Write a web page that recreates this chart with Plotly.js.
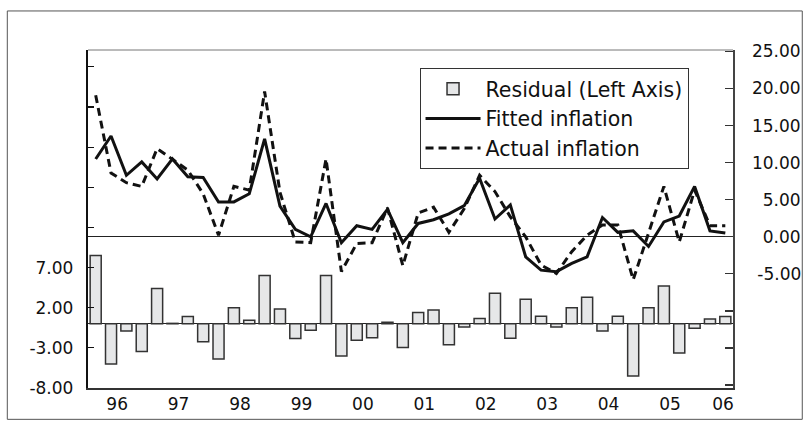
<!DOCTYPE html>
<html>
<head>
<meta charset="utf-8">
<script src="https://cdn.plot.ly/plotly-3.0.1.min.js"></script>
<style>html,body{margin:0;padding:0;background:#fff;}#chart{width:809px;height:426px;}</style>
</head>
<body>
<div id="chart"></div>
<script>
// Quarterly data, 1996Q1 .. 2006Q2
var quarters = ["96Q1","96Q2","96Q3","96Q4","97Q1","97Q2","97Q3","97Q4","98Q1","98Q2","98Q3","98Q4",
  "99Q1","99Q2","99Q3","99Q4","00Q1","00Q2","00Q3","00Q4","01Q1","01Q2","01Q3","01Q4",
  "02Q1","02Q2","02Q3","02Q4","03Q1","03Q2","03Q3","03Q4","04Q1","04Q2","04Q3","04Q4",
  "05Q1","05Q2","05Q3","05Q4","06Q1","06Q2"];
var residual = [8.5,-5.0,-0.9,-3.45,4.4,0.05,0.9,-2.25,-4.4,2.0,0.45,6.0,
  1.85,-1.85,-0.8,6.0,-4.0,-2.05,-1.75,0.2,-2.95,1.4,1.7,-2.6,
  -0.4,0.65,3.8,-1.8,3.05,0.95,-0.4,2.0,3.3,-0.9,0.95,-6.5,
  2.0,4.7,-3.65,-0.55,0.6,0.9];
var fitted = [10.5,13.6,8.3,10.1,7.8,10.5,8.1,8.0,4.7,4.7,5.8,13.2,
  4.15,1.0,0.0,4.5,-0.8,1.5,1.0,3.7,-0.8,1.8,2.3,3.1,
  4.2,7.9,2.4,4.3,-2.7,-4.5,-4.7,-3.6,-2.7,2.6,0.6,0.8,
  -1.3,2.0,2.8,6.8,0.8,0.5];
var actual = [19.1,8.6,7.3,6.8,11.9,10.5,9.0,5.8,0.2,6.8,6.3,19.6,
  6.0,-0.7,-0.8,10.5,-4.7,-0.9,-0.8,3.9,-3.9,3.2,4.0,0.6,
  3.8,8.3,6.1,2.7,0.0,-3.8,-4.95,-2.0,0.2,1.6,1.6,-5.8,
  0.6,6.8,-0.7,6.3,1.5,1.5];
var yearLabels = ["96","97","98","99","00","01","02","03","04","05","06"];
var leftTickVals = [-8,-3,2,7,12,17,22,27,32];
var leftTickText = ["-8.00","-3.00","2.00","7.00","","","","",""];
var rightTickVals = [-20,-15,-10,-5,0,5,10,15,20,25];
var rightTickText = ["","","","\u2008-5.00","\u20070.00","\u20075.00","10.00","15.00","20.00","25.00"];

var xIdx = quarters.map(function(q,i){return i;});
var n = quarters.length;
var yearCenters = yearLabels.map(function(y,k){
  var start = 4*k, end = Math.min(4*k+4, n);
  return (start + end - 1)/2 + (end - start < 4 ? 0.35 : -0.1);
});
var yearBounds = [];
for (var k = 4; k < n; k += 4) yearBounds.push(k - 0.5);

var FONT = "DejaVu Sans, Arial, sans-serif";

var traces = [
  {type:"bar", x:xIdx, y:residual, name:"Residual (Left Axis)", yaxis:"y", xaxis:"x",
   width:0.72, marker:{color:"#e6e7e8", line:{color:"#333333", width:1.5}}},
  {type:"scatter", mode:"lines", x:xIdx, y:fitted, name:"Fitted inflation", yaxis:"y2", xaxis:"x",
   line:{color:"#111111", width:3}},
  {type:"scatter", mode:"lines", x:xIdx, y:actual, name:"Actual inflation", yaxis:"y2", xaxis:"x",
   line:{color:"#111111", width:3, dash:"8px,5px"}}
];

var layout = {
  width:809, height:426,
  margin:{l:88, r:76, t:50, b:38},
  paper_bgcolor:"#ffffff", plot_bgcolor:"#ffffff",
  showlegend:true,
  bargap:0,
  font:{family:FONT, color:"#111111"},
  legend:{x:0.514, y:0.947, xanchor:"left", yanchor:"top",
    bordercolor:"#333333", borderwidth:1, bgcolor:"#ffffff",
    font:{family:FONT, size:20.5, color:"#111111"}, itemwidth:55, tracegroupgap:0},
  xaxis:{range:[-0.5, n-0.5], tickvals:yearCenters, ticktext:yearLabels, ticks:"",
    showgrid:false, zeroline:false, showline:true, linecolor:"#333333", linewidth:2,
    tickfont:{family:FONT, size:17, color:"#111111"}, fixedrange:true},
  xaxis2:{overlaying:"x", matches:"x", range:[-0.5, n-0.5], tickvals:yearBounds,
    ticktext:yearBounds.map(function(){return "";}), ticks:"inside", ticklen:9, tickwidth:1.2,
    tickcolor:"#333333", showgrid:false, zeroline:false, showline:false, anchor:"y", side:"bottom"},
  yaxis:{range:[-8, 34.1], tickvals:leftTickVals, ticktext:leftTickText, ticks:"inside",
    ticklen:6, tickwidth:1.2, tickcolor:"#111111", showgrid:false,
    zeroline:true, zerolinecolor:"#222222", zerolinewidth:1.2,
    showline:true, linecolor:"#111111", linewidth:2.2, ticklabelstandoff:9,
    tickfont:{family:FONT, size:17, color:"#111111"}},
  yaxis2:{overlaying:"y", side:"right", range:[-20.4, 25.2], tickvals:rightTickVals, ticktext:rightTickText,
    ticks:"inside", ticklen:8, tickwidth:1.2, tickcolor:"#333333", showgrid:false,
    zeroline:true, zerolinecolor:"#222222", zerolinewidth:1.2,
    showline:true, linecolor:"#444444", linewidth:1.5, ticklabelstandoff:14,
    tickfont:{family:FONT, size:17, color:"#111111"}},
  shapes:[
    {type:"line", xref:"paper", yref:"paper", x0:0, x1:1, y0:1, y1:1, line:{color:"#777777", width:1}},
    {type:"rect", xref:"paper", yref:"paper", x0:-0.1251, x1:1.1074, y0:-0.0927, y1:1.1155,
     line:{color:"#555555", width:1}, layer:"below"}
  ]
};

Plotly.newPlot("chart", traces, layout, {staticPlot:true, displayModeBar:false});
</script>
</body>
</html>
